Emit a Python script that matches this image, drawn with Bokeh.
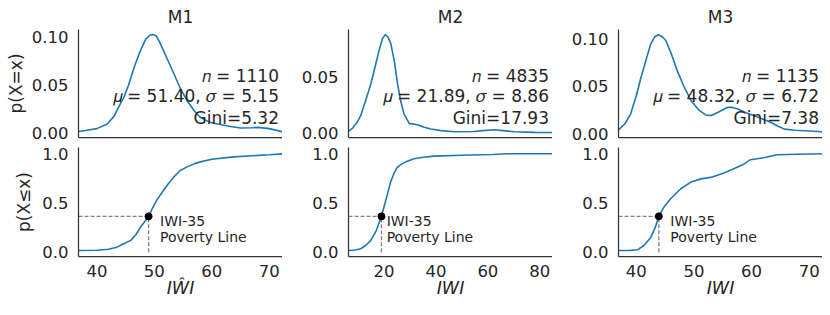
from bokeh.plotting import figure
from bokeh.layouts import column, row
from bokeh.models import Range1d, FixedTicker, PrintfTickFormatter
from bokeh.core.properties import value
from bokeh.embed import file_html
from bokeh.resources import INLINE

# ---------------- data ----------------
models = ["M1", "M2", "M3"]
x_labels = ["I\u0174I", "IWI", "IWI"]
n_obs = [1110, 4835, 1135]
mu = [51.40, 21.89, 48.32]
sigma = [5.15, 8.86, 6.72]
gini = [5.32, 17.93, 7.38]

pov_x = [49.0, 19.0, 43.9]
pov_cdf = [0.364, 0.364, 0.364]
pov_lines = ["IWI-35", "Poverty Line"]

x_limits = [(36.8, 72.3), (6.3, 84.9), (36.9, 72.3)]
pdf_limits = [(-0.0042, 0.108), (-0.0036, 0.0926), (-0.0042, 0.1096)]
cdf_limits = (-0.044, 1.064)

x_ticks = [[40, 50, 60, 70], [20, 40, 60, 80], [40, 50, 60, 70]]
pdf_ticks = [0.0, 0.05, 0.10]
cdf_ticks = [0.0, 0.5, 1.0]

m1_pdf_x = [36.8, 38, 40, 41.8, 43, 44, 44.7, 45.5, 46.5, 47.5, 48.5, 49.2, 49.7, 50.3, 51, 51.6,
            52.5, 53.4, 54.5, 55.7, 57, 58, 59.5, 61, 63, 65, 67, 68, 70, 72.3]
m1_pdf_y = [0.002, 0.003, 0.005, 0.0098, 0.018, 0.03, 0.0375, 0.05, 0.069, 0.085, 0.098, 0.102,
            0.1028, 0.1015, 0.094, 0.086, 0.074, 0.062, 0.047, 0.034, 0.023, 0.0167, 0.012, 0.0098,
            0.0075, 0.0056, 0.006, 0.0063, 0.005, 0.0018]
m2_pdf_x = [6.3, 8, 9.5, 11, 13, 14.9, 16.5, 18.1, 19.3, 20.4, 21.5, 22.6, 24, 25.2, 26.5, 27.7,
            29.7, 32.9, 35.5, 38, 42, 47, 54.7, 58, 62.4, 66, 70.1, 78, 84.9]
m2_pdf_y = [0.0018, 0.005, 0.0095, 0.0158, 0.03, 0.044, 0.059, 0.074, 0.084, 0.088, 0.086, 0.080,
            0.064, 0.044, 0.028, 0.0173, 0.009, 0.0078, 0.0055, 0.0039, 0.0025, 0.0015, 0.0018,
            0.0025, 0.0033, 0.0025, 0.0015, 0.001, 0.0009]
m3_pdf_x = [36.9, 38, 39, 40, 40.8, 41.7, 42.5, 43.2, 43.8, 44.5, 45.1, 46, 47.1, 48.3, 49.5, 50.8,
            52.1, 53, 54.1, 55, 55.8, 56.7, 57.6, 59, 60.5, 62, 63.4, 64.5, 65.7, 67.5, 69.2, 72.3]
m3_pdf_y = [0.0039, 0.01, 0.0205, 0.04, 0.059, 0.078, 0.0945, 0.102, 0.104, 0.102, 0.098, 0.085,
            0.066, 0.049, 0.0346, 0.025, 0.0194, 0.019, 0.0222, 0.025, 0.0275, 0.0275, 0.0258,
            0.022, 0.0187, 0.015, 0.0116, 0.008, 0.0046, 0.0035, 0.0029, 0.0018]

m1_cdf_x = [36.8, 40, 42, 43.5, 44.5, 45.9, 46.8, 47.6, 48.3, 49.0, 49.7, 50.4, 51.6, 52.5, 53.4,
            54.5, 55.7, 57, 58, 60, 63.8, 67, 70, 72.3]
m1_cdf_y = [0.017, 0.02, 0.03, 0.051, 0.08, 0.12, 0.18, 0.255, 0.31, 0.364, 0.45, 0.527, 0.63, 0.70,
            0.765, 0.83, 0.867, 0.9, 0.918, 0.945, 0.969, 0.98, 0.99, 1.0]
m2_cdf_x = [6.3, 9, 11, 13, 14.9, 17, 19.0, 20.2, 21.3, 22.5, 23.8, 25, 26.4, 28.5, 31.5, 35, 39.3,
            50, 57.3, 62, 67.6, 84.9]
m2_cdf_y = [0.017, 0.022, 0.035, 0.07, 0.12, 0.22, 0.364, 0.48, 0.59, 0.71, 0.80, 0.86, 0.89, 0.92,
            0.95, 0.965, 0.976, 0.985, 0.99, 0.993, 1.0, 1.0]
m3_cdf_x = [36.9, 39, 40.2, 41.3, 42.5, 43.3, 43.9, 44.8, 45.9, 47.7, 49.4, 51.2, 52.9, 55.2, 57,
            58.7, 59.8, 62.1, 64.4, 68, 72.3]
m3_cdf_y = [0.017, 0.018, 0.024, 0.068, 0.15, 0.254, 0.364, 0.46, 0.54, 0.645, 0.71, 0.745, 0.76,
            0.805, 0.85, 0.897, 0.94, 0.96, 0.99, 0.995, 1.0]

pdf_x = [m1_pdf_x, m2_pdf_x, m3_pdf_x]
pdf_y = [m1_pdf_y, m2_pdf_y, m3_pdf_y]
cdf_x = [m1_cdf_x, m2_cdf_x, m3_cdf_x]
cdf_y = [m1_cdf_y, m2_cdf_y, m3_cdf_y]

# ---------------- style ----------------
FONT = "DejaVu Sans"
TXT = "#262626"
BLUE = "#1f77b4"
border_left = [78, 66, 66]
border_right = [0, 0, 0]
FRAME_W = 204


def style(p):
    p.outline_line_color = None
    p.grid.visible = False
    p.background_fill_color = "white"
    p.border_fill_color = "white"
    for ax in p.axis:
        ax.axis_line_color = "#333333"
        ax.axis_line_width = 1.25
        ax.major_tick_line_color = None
        ax.minor_tick_line_color = None
        ax.major_tick_out = 0
        ax.major_tick_in = 0
        ax.minor_tick_out = 0
        ax.minor_tick_in = 0
        ax.major_label_text_font = FONT
        ax.major_label_text_font_size = "16.5px"
        ax.major_label_text_color = TXT
        ax.major_label_standoff = 10
        ax.axis_label_text_font = FONT
        ax.axis_label_text_font_size = "17px"
        ax.axis_label_text_color = TXT
        ax.axis_label_text_font_style = "normal"


top_figs = []
bot_figs = []
for i in range(3):
    x0, x1 = x_limits[i]
    # ---------- PDF ----------
    y0, y1 = pdf_limits[i]
    p = figure(frame_width=FRAME_W, frame_height=108, output_backend="svg", toolbar_location=None,
               x_range=Range1d(x0, x1), y_range=Range1d(y0, y1),
               min_border_left=border_left[i], min_border_right=border_right[i],
               min_border_top=29, min_border_bottom=9)
    p.title.text = models[i]
    p.title.align = "center"
    p.title.text_font = FONT
    p.title.text_font_size = "17px"
    p.title.text_font_style = "normal"
    p.title.text_color = TXT
    p.title.standoff = 6
    p.line(pdf_x[i], pdf_y[i], line_color=BLUE, line_width=1.6)
    style(p)
    p.xaxis.ticker = FixedTicker(ticks=[])
    p.xaxis.major_label_standoff = 0
    p.yaxis.ticker = FixedTicker(ticks=pdf_ticks)
    p.yaxis.formatter = PrintfTickFormatter(format="%.2f")
    if i == 0:
        p.yaxis.axis_label = "p(X=x)"
        p.yaxis.axis_label_standoff = 3
    lines = ["\U0001D45B = %d" % n_obs[i],
             "\U0001D707 = %.2f, \U0001D70E = %.2f" % (mu[i], sigma[i]),
             "Gini=%.2f" % gini[i]]
    fracs = [0.569, 0.384, 0.184]
    p.text(x=[x1] * 3, y=[y0 + f * (y1 - y0) for f in fracs], text=lines,
           text_font=value(FONT), text_font_size=value("17px"), text_color=TXT,
           text_align="right", text_baseline="middle", x_offset=-3.5)
    top_figs.append(p)

    # ---------- CDF ----------
    c0, c1 = cdf_limits
    q = figure(frame_width=FRAME_W, frame_height=109, output_backend="svg", toolbar_location=None,
               x_range=Range1d(x0, x1), y_range=Range1d(c0, c1),
               min_border_left=border_left[i], min_border_right=border_right[i],
               min_border_top=1, min_border_bottom=51)
    q.segment(x0=[x0], y0=[pov_cdf[i]], x1=[pov_x[i]], y1=[pov_cdf[i]],
              line_color="#808080", line_width=1.3, line_dash="4 2")
    q.segment(x0=[pov_x[i]], y0=[0.0], x1=[pov_x[i]], y1=[pov_cdf[i]],
              line_color="#808080", line_width=1.3, line_dash="4 2")
    q.line(cdf_x[i], cdf_y[i], line_color=BLUE, line_width=1.6)
    q.scatter(x=[pov_x[i]], y=[pov_cdf[i]], size=7, fill_color="black", line_color="black")
    for k, dy in enumerate([5, 21]):
        q.text(x=[pov_x[i] + 2], y=[pov_cdf[i]], text=[pov_lines[k]],
               text_font=value(FONT), text_font_size=value("14px"), text_color=TXT,
               text_align="left", text_baseline="middle", y_offset=dy)
    style(q)
    q.xaxis.ticker = FixedTicker(ticks=x_ticks[i])
    q.xaxis.major_label_standoff = 8
    q.xaxis.axis_label = x_labels[i]
    q.xaxis.axis_label_text_font_style = "italic"
    q.xaxis.axis_label_text_font_size = "17.5px"
    q.xaxis.axis_label_standoff = -2
    q.yaxis.ticker = FixedTicker(ticks=cdf_ticks)
    q.yaxis.formatter = PrintfTickFormatter(format="%.1f")
    if i == 0:
        q.yaxis.axis_label = "p(X\u2264x)"
        q.yaxis.axis_label_standoff = 5
    bot_figs.append(q)

layout = column(row(*top_figs, spacing=0), row(*bot_figs, spacing=0), spacing=0)
open("out.html", "w").write(file_html(layout, INLINE))
